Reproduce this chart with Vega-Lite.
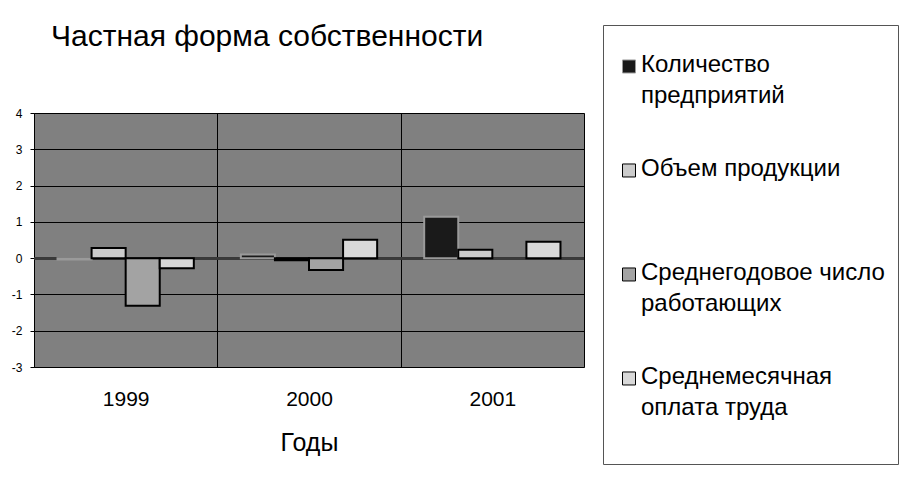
{
  "$schema": "https://vega.github.io/schema/vega-lite/v6.json",
  "width": 550,
  "height": 254,
  "autosize": {"type": "none"},
  "padding": {"left": 34, "top": 113, "right": 328, "bottom": 130},
  "background": "white",
  "title": {
    "text": "Частная форма собственности",
    "anchor": "start",
    "frame": "group",
    "dx": 17,
    "offset": -51,
    "baseline": "alphabetic",
    "fontSize": 30,
    "font": "Liberation Sans",
    "fontWeight": "normal",
    "color": "#000"
  },
  "data": {
    "values": [
      {"year": "1999", "series": "Количество предприятий", "value": -0.04},
      {"year": "1999", "series": "Объем продукции", "value": 0.28},
      {"year": "1999", "series": "Среднегодовое число работающих", "value": -1.31},
      {"year": "1999", "series": "Среднемесячная оплата труда", "value": -0.28},
      {"year": "2000", "series": "Количество предприятий", "value": 0.1},
      {"year": "2000", "series": "Объем продукции", "value": -0.06},
      {"year": "2000", "series": "Среднегодовое число работающих", "value": -0.33},
      {"year": "2000", "series": "Среднемесячная оплата труда", "value": 0.51},
      {"year": "2001", "series": "Количество предприятий", "value": 1.14},
      {"year": "2001", "series": "Объем продукции", "value": 0.23},
      {"year": "2001", "series": "Среднемесячная оплата труда", "value": 0.45}
    ]
  },
  "config": {
    "view": {"fill": "#808080", "stroke": "#a6a6a6"},
    "font": "Liberation Sans",
    "style": {"guide-label": {"lineHeight": 31}},
    "axisY": {"labelOverlap": false, "labelLineHeight": 13, "tickCount": 20}
  },
  "layer": [
    {
      "mark": {"type": "rule", "color": "#3a3a3a", "strokeWidth": 2},
      "encoding": {"y": {"datum": 0, "type": "quantitative"}}
    },
    {
      "mark": {"type": "bar", "strokeWidth": 2},
      "encoding": {
        "x": {
          "field": "year",
          "type": "nominal",
          "scale": {"paddingInner": 0, "paddingOuter": 0},
          "axis": {
            "title": "Годы",
            "titleFontSize": 25,
            "titleFontWeight": "normal",
            "titlePadding": 21,
            "titleColor": "#000",
            "labelFontSize": 21,
            "labelPadding": 21,
            "labelColor": "#000",
            "labelAngle": 0,
            "domain": false,
            "ticks": false,
            "grid": true,
            "tickBand": "extent",
            "gridColor": "#000",
            "gridOpacity": 1,
            "gridWidth": 1
          }
        },
        "xOffset": {
          "field": "series",
          "type": "nominal",
          "sort": ["Количество предприятий", "Объем продукции", "Среднегодовое число работающих", "Среднемесячная оплата труда"],
          "scale": {"domain": ["Количество предприятий", "Объем продукции", "Среднегодовое число работающих", "Среднемесячная оплата труда"], "paddingInner": 0, "paddingOuter": 0.69}
        },
        "y": {
          "field": "value",
          "type": "quantitative",
          "scale": {"domain": [-3, 4], "nice": false, "zero": false},
          "axis": {
            "title": null,
            "values": [-3, -2, -1, 0, 1, 2, 3, 4],
            "tickCount": 20,
            "labelExpr": "'' + datum.value",
            "labelOverlap": false,
            "labelLineHeight": 13,
            "labelFlush": false,
            "grid": true,
            "gridColor": "#000",
            "gridOpacity": 1,
            "gridWidth": 1,
            "domainColor": "#000",
            "domainWidth": 1,
            "tickColor": "#000",
            "tickSize": 4,
            "labelFontSize": 12,
            "labelPadding": 8,
            "labelColor": "#000"
          }
        },
        "fill": {
          "field": "series",
          "type": "nominal",
          "scale": {
            "domain": ["Количество предприятий", "Объем продукции", "Среднегодовое число работающих", "Среднемесячная оплата труда"],
            "range": ["#1a1a1a", "#cccccc", "#a3a3a3", "#d9d9d9"]
          },
          "legend": {
            "orient": "none",
            "legendX": 569,
            "legendY": -88,
            "title": " ",
            "titleFontSize": 8,
            "titlePadding": 14,
            "direction": "vertical",
            "strokeColor": "#555",
            "fillColor": "#fff",
            "padding": 13,
            "symbolType": "M-1,-1.85H1V0.15H-1Z",
            "symbolSize": 169,
            "symbolStrokeWidth": 1,
            "symbolOffset": 1,
            "labelOffset": 0,
            "labelFontSize": 24,
            "labelColor": "#000",
            "labelBaseline": "alphabetic",
            "labelLimit": 400,
            "rowPadding": 49,
            "labelExpr": "datum.label == 'Количество предприятий' ? ['Количество', 'предприятий'] : datum.label == 'Объем продукции' ? ['Объем продукции', ''] : datum.label == 'Среднегодовое число работающих' ? ['Среднегодовое число', 'работающих'] : ['Среднемесячная', 'оплата труда', '']"
          }
        },
        "stroke": {
          "field": "series",
          "type": "nominal",
          "scale": {
            "domain": ["Количество предприятий", "Объем продукции", "Среднегодовое число работающих", "Среднемесячная оплата труда"],
            "range": ["#9a9a9a", "#000000", "#000000", "#000000"]
          },
          "legend": {
            "orient": "none",
            "legendX": 569,
            "legendY": -88,
            "title": " ",
            "titleFontSize": 8,
            "titlePadding": 14,
            "direction": "vertical",
            "strokeColor": "#555",
            "fillColor": "#fff",
            "padding": 13,
            "symbolType": "M-1,-1.85H1V0.15H-1Z",
            "symbolSize": 169,
            "symbolStrokeWidth": 1,
            "symbolOffset": 1,
            "labelOffset": 0,
            "labelFontSize": 24,
            "labelColor": "#000",
            "labelBaseline": "alphabetic",
            "labelLimit": 400,
            "rowPadding": 49,
            "labelExpr": "datum.label == 'Количество предприятий' ? ['Количество', 'предприятий'] : datum.label == 'Объем продукции' ? ['Объем продукции', ''] : datum.label == 'Среднегодовое число работающих' ? ['Среднегодовое число', 'работающих'] : ['Среднемесячная', 'оплата труда', '']"
          }
        }
      }
    }
  ]
}
